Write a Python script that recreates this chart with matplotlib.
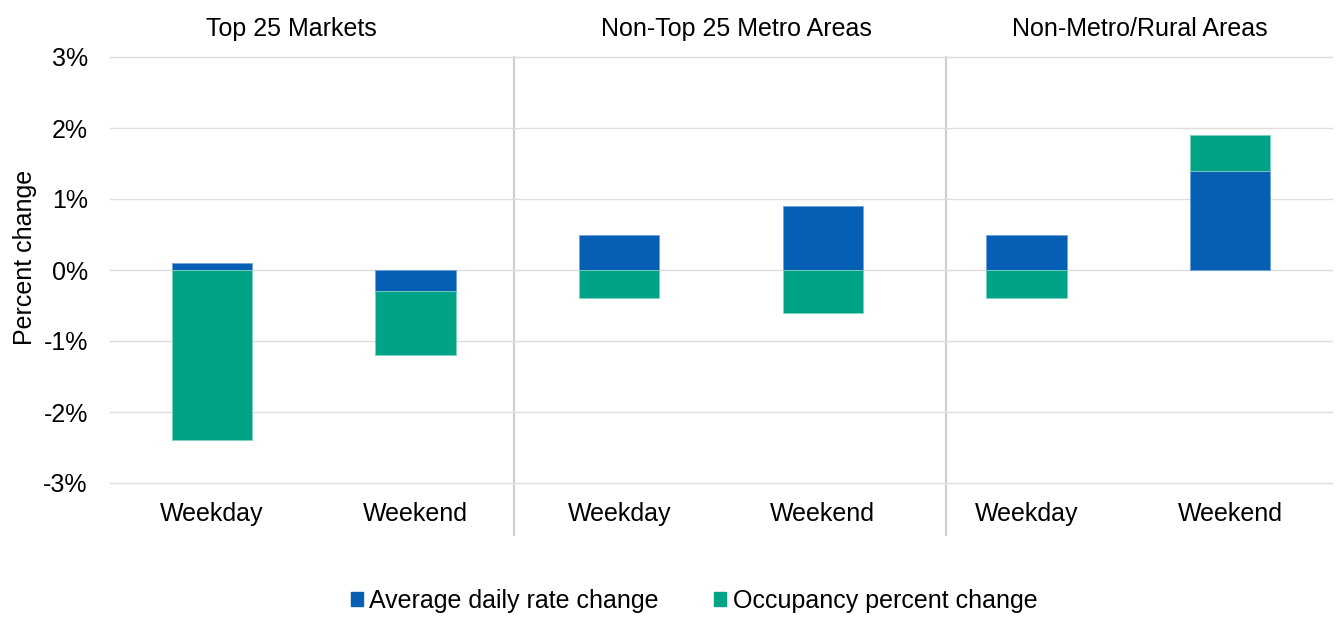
import matplotlib.pyplot as plt
import matplotlib.transforms as mtransforms
from matplotlib.patches import Patch

plt.rcParams['font.family'] = ['Liberation Sans', 'DejaVu Sans']

# Data (percent)
categories = ["Weekday", "Weekend", "Weekday", "Weekend", "Weekday", "Weekend"]
groups = ["Top 25 Markets", "Non-Top 25 Metro Areas", "Non-Metro/Rural Areas"]
adr_change = [0.1, -0.3, 0.5, 0.9, 0.5, 1.4]
occ_change = [-2.4, -0.9, -0.4, -0.6, -0.4, 0.5]
yticks = [-3, -2, -1, 0, 1, 2, 3]

blue = "#065FB5"
green = "#00A386"

fig = plt.figure(figsize=(13.36, 6.18), dpi=100)
ax = fig.add_axes([110 / 1336, 135 / 618, 1222 / 1336, 426 / 618])

x = list(range(len(categories)))

# occupancy stacks on top of ADR when both share a sign, otherwise starts at 0
occ_bottom = []
for a, o in zip(adr_change, occ_change):
    occ_bottom.append(a if (a > 0) == (o > 0) else 0)

ax.bar(x, adr_change, width=0.395, color=blue, edgecolor="#6fa3d6", linewidth=0.6,
       label="Average daily rate change", zorder=3)
ax.bar(x, occ_change, width=0.395, bottom=occ_bottom, color=green, edgecolor="#7fd0c0",
       linewidth=0.6, label="Occupancy percent change", zorder=3)

ax.set_xlim(-0.5, len(categories) - 0.5)
ax.set_ylim(-3, 3)
ax.set_yticks(yticks)
ax.set_yticklabels([f"{t}%" for t in yticks])
ax.set_xticks(x)
ax.set_xticklabels(categories)
ax.tick_params(axis="both", length=0, labelsize=18, colors="black")
ax.tick_params(axis="x", pad=14)
ax.tick_params(axis="y", pad=16)
ax.yaxis.grid(True, color="#dedede", linewidth=1, zorder=0)
for line in ax.get_ygridlines():
    line.set_clip_on(False)
for s in ax.spines.values():
    s.set_visible(False)

ax.set_ylabel("Percent change", fontsize=18)
ax.yaxis.set_label_coords(-0.06, 0.53)

# group separators and labels
trans = mtransforms.blended_transform_factory(ax.transData, ax.transAxes)
separators = [1.484, 3.605]
for sx in separators:
    ax.plot([sx, sx], [1.0, -0.122], transform=trans, color="#c4c4c4",
            linewidth=1.2, clip_on=False, zorder=1)

group_pos = [0.39, 2.574, 4.557]
for g, gx in zip(groups, group_pos):
    ax.text(gx, 1.065, g, transform=trans, ha="center", va="center", fontsize=18)

handles = [Patch(color=blue), Patch(color=green)]
fig.legend(handles, ["Average daily rate change", "Occupancy percent change"],
           loc="center", bbox_to_anchor=(694 / 1336, 1 - 601 / 618), ncol=2,
           frameon=False, fontsize=18, handlelength=0.5, handleheight=0.5,
           handletextpad=0.25, columnspacing=2.2)

fig.savefig("out.png", dpi=100)
